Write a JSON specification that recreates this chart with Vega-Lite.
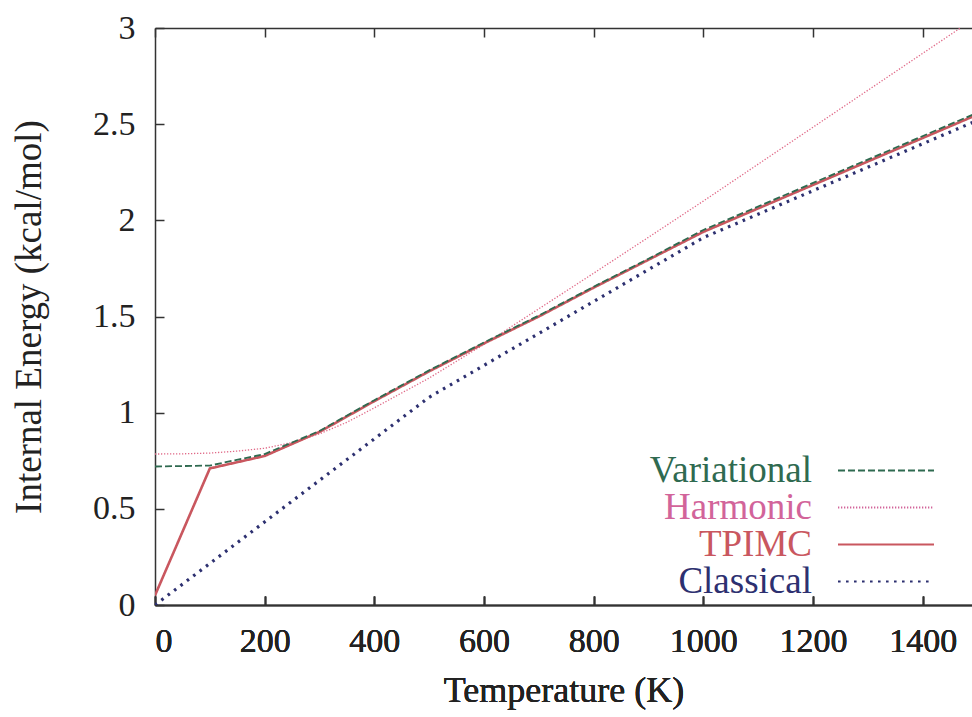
{
  "$schema": "https://vega.github.io/schema/vega-lite/v6.json",
  "width": 817,
  "height": 577,
  "autosize": {"type": "none"},
  "padding": {"left": 155, "top": 28, "right": 0, "bottom": 112},
  "background": "white",
  "config": {
    "font": "Liberation Serif",
    "view": {"stroke": null},
    "axis": {
      "domainColor": "#333333",
      "domainWidth": 1.5,
      "tickColor": "#333333",
      "tickWidth": 1.5,
      "tickSize": -9,
      "grid": false,
      "labelFont": "Liberation Serif",
      "labelFontSize": 34,
      "labelColor": "#222222",
      "titleFont": "Liberation Serif",
      "titleFontSize": 36,
      "titleFontWeight": "normal",
      "titleColor": "#222222"
    },
    "legend": {
      "orient": "none",
      "legendX": 712.5,
      "legendY": 424,
      "title": null,
      "padding": 0,
      "symbolType": "M-10,0H10",
      "symbolSize": 92.16,
      "symbolStrokeWidth": 2,
      "rowPadding": -1.5,
      "labelAlign": "right",
      "labelOffset": -92.5,
      "labelFont": "Liberation Serif",
      "labelFontSize": 37,
      "labelLimit": 400
    }
  },
  "data": {
    "values": [
      {"series": "Variational", "T": 0, "E": 0.72},
      {"series": "Variational", "T": 100, "E": 0.725},
      {"series": "Variational", "T": 200, "E": 0.785},
      {"series": "Variational", "T": 300, "E": 0.905},
      {"series": "Variational", "T": 400, "E": 1.065},
      {"series": "Variational", "T": 500, "E": 1.22},
      {"series": "Variational", "T": 600, "E": 1.365},
      {"series": "Variational", "T": 700, "E": 1.505},
      {"series": "Variational", "T": 800, "E": 1.655},
      {"series": "Variational", "T": 900, "E": 1.8},
      {"series": "Variational", "T": 1000, "E": 1.95},
      {"series": "Variational", "T": 1500, "E": 2.56},
      {"series": "Harmonic", "T": 0, "E": 0.785},
      {"series": "Harmonic", "T": 50, "E": 0.786},
      {"series": "Harmonic", "T": 100, "E": 0.79},
      {"series": "Harmonic", "T": 150, "E": 0.8},
      {"series": "Harmonic", "T": 200, "E": 0.815},
      {"series": "Harmonic", "T": 250, "E": 0.845},
      {"series": "Harmonic", "T": 300, "E": 0.89},
      {"series": "Harmonic", "T": 350, "E": 0.95},
      {"series": "Harmonic", "T": 400, "E": 1.025},
      {"series": "Harmonic", "T": 500, "E": 1.18},
      {"series": "Harmonic", "T": 600, "E": 1.355},
      {"series": "Harmonic", "T": 700, "E": 1.54},
      {"series": "Harmonic", "T": 800, "E": 1.725},
      {"series": "Harmonic", "T": 900, "E": 1.912},
      {"series": "Harmonic", "T": 1000, "E": 2.1},
      {"series": "Harmonic", "T": 1500, "E": 3.06},
      {"series": "TPIMC", "T": 0, "E": 0.05},
      {"series": "TPIMC", "T": 100, "E": 0.71},
      {"series": "TPIMC", "T": 200, "E": 0.775},
      {"series": "TPIMC", "T": 300, "E": 0.9},
      {"series": "TPIMC", "T": 400, "E": 1.06},
      {"series": "TPIMC", "T": 500, "E": 1.215},
      {"series": "TPIMC", "T": 600, "E": 1.36},
      {"series": "TPIMC", "T": 700, "E": 1.5},
      {"series": "TPIMC", "T": 800, "E": 1.65},
      {"series": "TPIMC", "T": 900, "E": 1.795},
      {"series": "TPIMC", "T": 1000, "E": 1.94},
      {"series": "TPIMC", "T": 1500, "E": 2.55},
      {"series": "Classical", "T": 0, "E": 0.0},
      {"series": "Classical", "T": 500, "E": 1.08},
      {"series": "Classical", "T": 1000, "E": 1.91},
      {"series": "Classical", "T": 1500, "E": 2.52}
    ]
  },
  "encoding": {
    "x": {
      "field": "T", "type": "quantitative",
      "scale": {"domain": [0, 1490], "nice": false, "zero": false},
      "axis": {"orient": "bottom", "title": "Temperature (K)", "values": [0, 200, 400, 600, 800, 1000, 1200, 1400], "format": "d", "labelPadding": 28, "titlePadding": 15}
    },
    "y": {
      "field": "E", "type": "quantitative",
      "scale": {"domain": [0, 3], "nice": false},
      "axis": {"title": "Internal Energy (kcal/mol)", "titleFontSize": 37, "values": [0, 0.5, 1, 1.5, 2, 2.5, 3], "format": "~g", "labelPadding": 29, "titlePadding": 44}
    },
    "color": {
      "field": "series", "type": "nominal",
      "scale": {"domain": ["Variational", "Harmonic", "TPIMC", "Classical"], "range": ["#2f6a50", "#d2649a", "#c9575f", "#2d3070"]},
      "legend": {"encode": {"labels": {"update": {"fill": {"scale": "color", "field": "value"}}}}}
    },
    "strokeDash": {
      "field": "series", "type": "nominal",
      "scale": {"domain": ["Variational", "Harmonic", "TPIMC", "Classical"], "range": [[7, 3], [1.3, 1.7], [1, 0], [2.6, 5.4]]}
    }
  },
  "layer": [
    {
      "transform": [{"filter": "datum.series == 'Classical'"}],
      "mark": {"type": "line", "clip": true, "strokeWidth": 3.2}
    },
    {
      "transform": [{"filter": "datum.series == 'Harmonic'"}],
      "mark": {"type": "line", "clip": true, "strokeWidth": 1.3, "stroke": "#e06a88"}
    },
    {
      "transform": [{"filter": "datum.series == 'TPIMC'"}],
      "mark": {"type": "line", "clip": true, "strokeWidth": 2.6}
    },
    {
      "transform": [{"filter": "datum.series == 'Variational'"}],
      "mark": {"type": "line", "clip": true, "strokeWidth": 1.8}
    },
    {
      "mark": {"type": "line", "opacity": 0},
      "encoding": {
        "x": {
          "field": "T", "type": "quantitative",
          "axis": {"orient": "top", "labels": false, "title": null, "values": [0, 200, 400, 600, 800, 1000, 1200, 1400]}
        },
        "color": null,
        "strokeDash": null,
        "detail": {"field": "series"}
      }
    }
  ],
  "resolve": {"axis": {"x": "independent"}}
}
